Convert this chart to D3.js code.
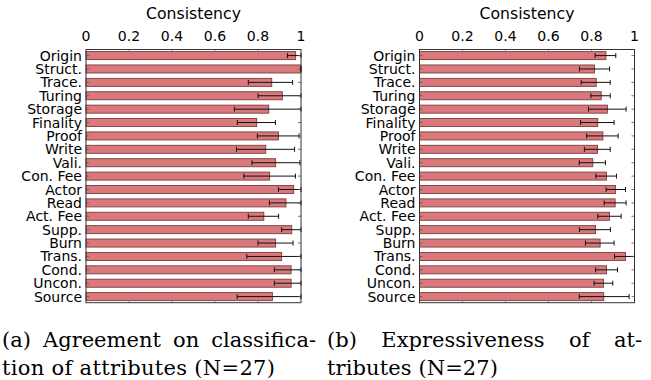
<html>
<head>
<script src="https://d3js.org/d3.v7.min.js"></script>
<style>
  body { margin: 0; background: #fff; }
  .lbl { font-family: "DejaVu Sans", sans-serif; }
  .cap { font-family: "DejaVu Serif", serif; }
</style>
</head>
<body>
<svg id="chart" width="651" height="380"></svg>
<script>
// categories (top to bottom)
const categories = ["Origin", "Struct.", "Trace.", "Turing", "Storage", "Finality", "Proof", "Write",
  "Vali.", "Con. Fee", "Actor", "Read", "Act. Fee", "Supp.", "Burn", "Trans.", "Cond.", "Uncon.", "Source"];

// (a) agreement on classification
const agreeMean = [0.975, 1.0, 0.864, 0.913, 0.85, 0.794, 0.895, 0.836, 0.882, 0.854, 0.966, 0.93, 0.827, 0.957, 0.882, 0.91, 0.954, 0.954, 0.867];
const agreeLow  = [0.937, 1.0, 0.755, 0.80, 0.69, 0.704, 0.797, 0.70, 0.772, 0.734, 0.895, 0.853, 0.755, 0.91, 0.80, 0.748, 0.876, 0.876, 0.703];
const agreeHigh = [1.0, 1.0, 0.961, 1.0, 1.0, 0.881, 0.991, 0.97, 0.995, 0.974, 1.0, 1.0, 0.896, 1.0, 0.963, 1.0, 1.0, 1.0, 1.0];

// (b) expressiveness
const exprMean = [0.867, 0.814, 0.822, 0.845, 0.874, 0.829, 0.853, 0.828, 0.806, 0.87, 0.912, 0.91, 0.884, 0.819, 0.84, 0.958, 0.87, 0.856, 0.857];
const exprLow  = [0.817, 0.744, 0.752, 0.797, 0.786, 0.749, 0.778, 0.767, 0.743, 0.82, 0.868, 0.859, 0.829, 0.744, 0.772, 0.907, 0.819, 0.812, 0.743];
const exprHigh = [0.913, 0.884, 0.887, 0.887, 0.961, 0.905, 0.924, 0.887, 0.865, 0.916, 0.958, 0.961, 0.938, 0.888, 0.905, 1.0, 0.921, 0.899, 0.975];

const xTicks = [0, 0.2, 0.4, 0.6, 0.8, 1];
const axisTitle = "Consistency";

const svg = d3.select("#chart");
const plotTop = 49.5, plotBottom = 302.7, plotW = 215;

const y = d3.scaleBand().domain(categories).range([plotTop, plotBottom])
  .paddingInner(0.4).paddingOuter(0.155);

function panel(x0, mean, lo, hi) {
  const x = d3.scaleLinear().domain([0, 1]).range([x0, x0 + plotW]);
  const g = svg.append("g");

  // title
  g.append("text").attr("class", "lbl")
    .attr("x", x(0.5)).attr("y", 19)
    .attr("text-anchor", "middle").attr("font-size", 15.7)
    .text(axisTitle);

  // top tick labels
  g.selectAll("text.xt").data(xTicks).join("text")
    .attr("class", "lbl xt")
    .attr("x", d => x(d)).attr("y", 41)
    .attr("text-anchor", "middle").attr("font-size", 14)
    .text(d => d);

  // bars
  g.selectAll("rect.bar").data(categories).join("rect")
    .attr("class", "bar")
    .attr("x", x(0))
    .attr("y", d => y(d))
    .attr("width", (d, i) => x(mean[i]) - x(0))
    .attr("height", y.bandwidth())
    .attr("fill", "#d9797c")
    .attr("stroke", "#7a3e3e")
    .attr("stroke-width", 0.9);

  // error bars
  const eb = g.selectAll("g.err").data(categories).join("g").attr("class", "err")
    .attr("transform", d => "translate(0," + (y(d) + y.bandwidth() / 2) + ")");
  eb.append("line")
    .attr("x1", (d, i) => x(lo[i])).attr("x2", (d, i) => x(hi[i]))
    .attr("stroke", "#111").attr("stroke-width", 1);
  eb.append("line")
    .attr("x1", (d, i) => x(lo[i])).attr("x2", (d, i) => x(lo[i]))
    .attr("y1", -2.5).attr("y2", 2.5)
    .attr("stroke", "#111").attr("stroke-width", 1);
  eb.append("line")
    .attr("x1", (d, i) => x(hi[i])).attr("x2", (d, i) => x(hi[i]))
    .attr("y1", -2.5).attr("y2", 2.5)
    .attr("stroke", "#111").attr("stroke-width", 1);

  // category labels
  g.selectAll("text.cat").data(categories).join("text")
    .attr("class", "lbl cat")
    .attr("x", x(0) - 4)
    .attr("y", d => y(d) + y.bandwidth() / 2)
    .attr("dy", "0.36em")
    .attr("text-anchor", "end").attr("font-size", 14)
    .text(d => d);

  // inward ticks: y on both sides, x on top and bottom
  g.selectAll("line.yt").data(categories).join("line")
    .attr("class", "yt")
    .attr("x1", x(0)).attr("x2", x(0) + 3)
    .attr("y1", d => y(d) + y.bandwidth() / 2).attr("y2", d => y(d) + y.bandwidth() / 2)
    .attr("stroke", "#555").attr("stroke-width", 0.8);
  g.selectAll("line.yt2").data(categories).join("line")
    .attr("class", "yt2")
    .attr("x1", x(1)).attr("x2", x(1) - 3)
    .attr("y1", d => y(d) + y.bandwidth() / 2).attr("y2", d => y(d) + y.bandwidth() / 2)
    .attr("stroke", "#555").attr("stroke-width", 0.8);
  const inner = xTicks.slice(1, -1);
  g.selectAll("line.xtt").data(inner).join("line")
    .attr("class", "xtt")
    .attr("x1", d => x(d)).attr("x2", d => x(d))
    .attr("y1", plotTop).attr("y2", plotTop + 3)
    .attr("stroke", "#777").attr("stroke-width", 0.8);
  g.selectAll("line.xtb").data(inner).join("line")
    .attr("class", "xtb")
    .attr("x1", d => x(d)).attr("x2", d => x(d))
    .attr("y1", plotBottom).attr("y2", plotBottom - 3)
    .attr("stroke", "#777").attr("stroke-width", 0.8);

  // frame
  g.append("rect")
    .attr("x", x(0)).attr("y", plotTop)
    .attr("width", plotW).attr("height", plotBottom - plotTop)
    .attr("fill", "none").attr("stroke", "#333").attr("stroke-width", 1);
}

panel(86, agreeMean, agreeLow, agreeHigh);
panel(419.5, exprMean, exprLow, exprHigh);

// captions (justified first line, like LaTeX subcaptions)
function caption(x0, width, line1, line2, width2) {
  const fs = 21;
  const words = line1.split(" ");
  const g = svg.append("g").attr("class", "cap").attr("font-size", fs);
  const ws = words.map(w => {
    const t = g.append("text").attr("y", 347).text(w);
    return { t: t, w: t.node().getComputedTextLength() };
  });
  const total = d3.sum(ws, d => d.w);
  const gap = (width - total) / (ws.length - 1);
  let cx = x0;
  ws.forEach(d => { d.t.attr("x", cx); cx += d.w + gap; });
  g.append("text").attr("x", x0).attr("y", 375)
    .attr("textLength", width2).attr("lengthAdjust", "spacing")
    .text(line2);
}
caption(2, 314, "(a) Agreement on classifica-", "tion of attributes (N=27)", 273);
caption(327, 315, "(b) Expressiveness of at-", "tributes (N=27)", 171);
</script>
</body>
</html>
